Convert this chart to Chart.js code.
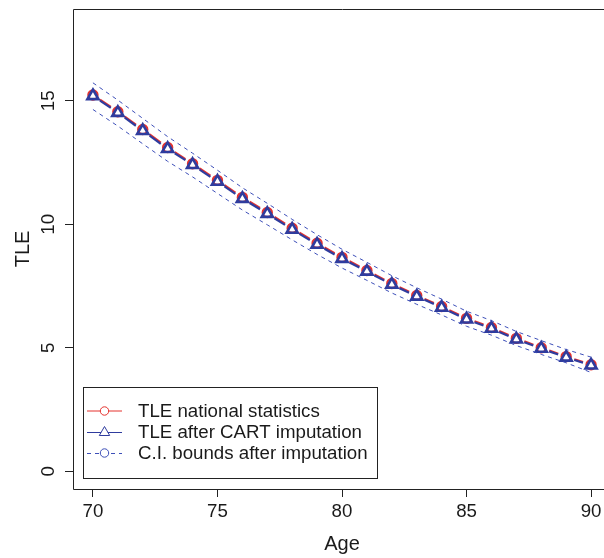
<!DOCTYPE html>
<html>
<head>
<meta charset="utf-8">
<script src="https://cdn.jsdelivr.net/npm/chart.js@4/dist/chart.umd.min.js"></script>
<style>
html,body{margin:0;padding:0;background:#fff;overflow:hidden;}
#wrap{width:604px;height:558px;overflow:hidden;position:relative;}
canvas{display:block;}
</style>
</head>
<body>
<div id="wrap"><canvas id="c" width="620" height="558"></canvas></div>
<script>
// ---- data ----
const ages = [70,71,72,73,74,75,76,77,78,79,80,81,82,83,84,85,86,87,88,89,90];
const tleNational = [15.24,14.56,13.84,13.11,12.45,11.78,11.09,10.48,9.84,9.23,8.66,8.13,7.60,7.12,6.67,6.19,5.82,5.38,5.00,4.64,4.31];
const tleCart = [15.20,14.52,13.79,13.06,12.41,11.73,11.04,10.43,9.79,9.18,8.61,8.09,7.56,7.08,6.63,6.15,5.78,5.34,4.97,4.61,4.29];
const ciUpper = [15.73,15.03,14.29,13.55,12.88,12.19,11.48,10.85,10.20,9.58,8.99,8.46,7.92,7.43,6.97,6.48,6.10,5.66,5.29,4.93,4.62];
const ciLower = [14.65,13.98,13.26,12.55,11.92,11.25,10.58,9.98,9.37,8.78,8.23,7.73,7.22,6.76,6.33,5.87,5.51,5.09,4.73,4.39,4.00];
const xTicks = [70,75,80,85,90];
const yTicks = [0,5,10,15];
const legendLabels = ["TLE national statistics","TLE after CART imputation","C.I. bounds after imputation"];
const xTitle = "Age";
const yTitle = "TLE";

const RED = '#e5322e';
const BLUE = '#2f3c9e';
const CIBLUE = '#3d4fb8';
const FONT = '"Liberation Sans", Arial, Helvetica, sans-serif';
const FS = 18.7;

function pts(ys){ return ages.map((a,i)=>({x:a,y:ys[i]})); }

// R type="b": gaps around points on each segment
const GAP = 8.5;
const gapDash = (c) => {
  const L = Math.hypot(c.p1.x - c.p0.x, c.p1.y - c.p0.y);
  return [0, GAP, Math.max(L - 2*GAP, 0), GAP];
};

const framePlugin = {
  id: 'frame',
  afterDraw(chart){
    const ctx = chart.ctx, a = chart.chartArea;
    ctx.save();
    // plot box (right side lies outside the visible window)
    ctx.strokeStyle = '#222';
    ctx.lineWidth = 1;
    const L = Math.round(a.left)+0.5, T = Math.round(a.top)+0.5, B = Math.round(a.bottom)+0.5, R = Math.round(a.right)+0.5;
    ctx.beginPath();
    ctx.moveTo(R, T); ctx.lineTo(L, T); ctx.lineTo(L, B); ctx.lineTo(R, B);
    ctx.stroke();
    // y tick labels, rotated like R
    const ys = chart.scales.y;
    ctx.fillStyle = '#1a1a1a';
    ctx.font = FS + 'px ' + FONT;
    ctx.textAlign = 'center';
    ctx.textBaseline = 'middle';
    yTicks.forEach(v => {
      const py = ys.getPixelForValue(v);
      ctx.save();
      ctx.translate(49, py);
      ctx.rotate(-Math.PI/2);
      ctx.fillText(String(v), 0, 0);
      ctx.restore();
    });
    // legend
    const lx = 83, ly = 387, lw = 294, lh = 91;
    ctx.fillStyle = '#fff';
    ctx.fillRect(lx, ly, lw, lh);
    ctx.strokeStyle = '#222';
    ctx.strokeRect(lx+0.5, ly+0.5, lw, lh);
    const rows = [411, 432, 453];
    const sx0 = 87, sx1 = 122, sxm = 104.5;
    ctx.lineWidth = 1;
    // row 1: red line + circle
    ctx.strokeStyle = RED;
    ctx.beginPath(); ctx.moveTo(sx0, rows[0]); ctx.lineTo(sx1, rows[0]); ctx.stroke();
    ctx.fillStyle = '#fff';
    ctx.beginPath(); ctx.arc(sxm, rows[0], 4.2, 0, Math.PI*2); ctx.fill(); ctx.stroke();
    // row 2: blue line + triangle
    ctx.strokeStyle = BLUE;
    ctx.beginPath(); ctx.moveTo(sx0, rows[1]+0.5); ctx.lineTo(sx1, rows[1]+0.5); ctx.stroke();
    ctx.beginPath();
    ctx.moveTo(sxm, rows[1]-5.5); ctx.lineTo(sxm+5.2, rows[1]+3.5); ctx.lineTo(sxm-5.2, rows[1]+3.5); ctx.closePath();
    ctx.fillStyle = '#fff'; ctx.fill(); ctx.stroke();
    // row 3: dashed blue + circle
    ctx.strokeStyle = CIBLUE;
    ctx.setLineDash([4,4]);
    ctx.beginPath(); ctx.moveTo(sx0, rows[2]+0.5); ctx.lineTo(sx1, rows[2]+0.5); ctx.stroke();
    ctx.setLineDash([]);
    ctx.beginPath(); ctx.arc(sxm, rows[2], 4.2, 0, Math.PI*2); ctx.fill(); ctx.stroke();
    // texts
    ctx.fillStyle = '#1a1a1a';
    ctx.textAlign = 'left';
    ctx.textBaseline = 'middle';
    legendLabels.forEach((t,i) => ctx.fillText(t, 138, rows[i]+1));
    ctx.restore();
  }
};

new Chart(document.getElementById('c'), {
  type: 'line',
  data: {
    datasets: [
      { label: legendLabels[0], data: pts(tleNational), borderColor: RED, borderWidth: 2.2,
        pointStyle: 'circle', pointRadius: 4.6, pointBorderWidth: 2.2, pointBorderColor: RED,
        pointBackgroundColor: 'rgba(255,255,255,0)', segment: { borderDash: gapDash }, order: 4 },
      { label: legendLabels[1], data: pts(tleCart), borderColor: BLUE, borderWidth: 2.2,
        pointStyle: 'triangle', pointRadius: 6.4, pointBorderWidth: 2.6, pointBorderColor: BLUE,
        pointBackgroundColor: 'rgba(255,255,255,0)', segment: { borderDash: gapDash }, order: 3 },
      { label: legendLabels[2] + ' (upper)', data: pts(ciUpper), borderColor: CIBLUE, borderWidth: 1,
        borderDash: [4,4], pointRadius: 0, order: 2 },
      { label: legendLabels[2] + ' (lower)', data: pts(ciLower), borderColor: CIBLUE, borderWidth: 1,
        borderDash: [4,4], pointRadius: 0, order: 1 }
    ]
  },
  options: {
    responsive: false,
    animation: false,
    devicePixelRatio: 1,
    layout: { padding: { top: 7, right: 9, left: 0, bottom: 0 } },
    elements: { line: { tension: 0, fill: false } },
    plugins: { legend: { display: false }, tooltip: { enabled: false } },
    scales: {
      x: {
        type: 'linear', min: 69.2, max: 90.8,
        afterBuildTicks: s => { s.ticks = xTicks.map(v => ({value: v})); },
        afterFit: s => { s.height = 69; },
        grid: { display: true, drawOnChartArea: false, drawTicks: true, tickLength: 8, color: '#222', lineWidth: 1 },
        border: { display: false },
        ticks: { color: '#1a1a1a', font: { family: FONT, size: FS }, padding: 4, maxRotation: 0, autoSkip: false,
                 callback: v => String(v) },
        title: { display: true, text: xTitle, color: '#1a1a1a', font: { family: FONT, size: 20 }, padding: { top: 2, bottom: 2 } }
      },
      y: {
        type: 'linear', min: -0.72, max: 18.72,
        afterBuildTicks: s => { s.ticks = yTicks.map(v => ({value: v})); },
        afterFit: s => { s.width = 73; },
        grid: { display: true, drawOnChartArea: false, drawTicks: true, tickLength: 8, color: '#222', lineWidth: 1 },
        border: { display: false },
        ticks: { display: false },
        title: { display: true, text: yTitle, color: '#1a1a1a', font: { family: FONT, size: 20 }, padding: { top: 11, bottom: 0 } }
      }
    }
  },
  plugins: [framePlugin]
});
</script>
</body>
</html>
